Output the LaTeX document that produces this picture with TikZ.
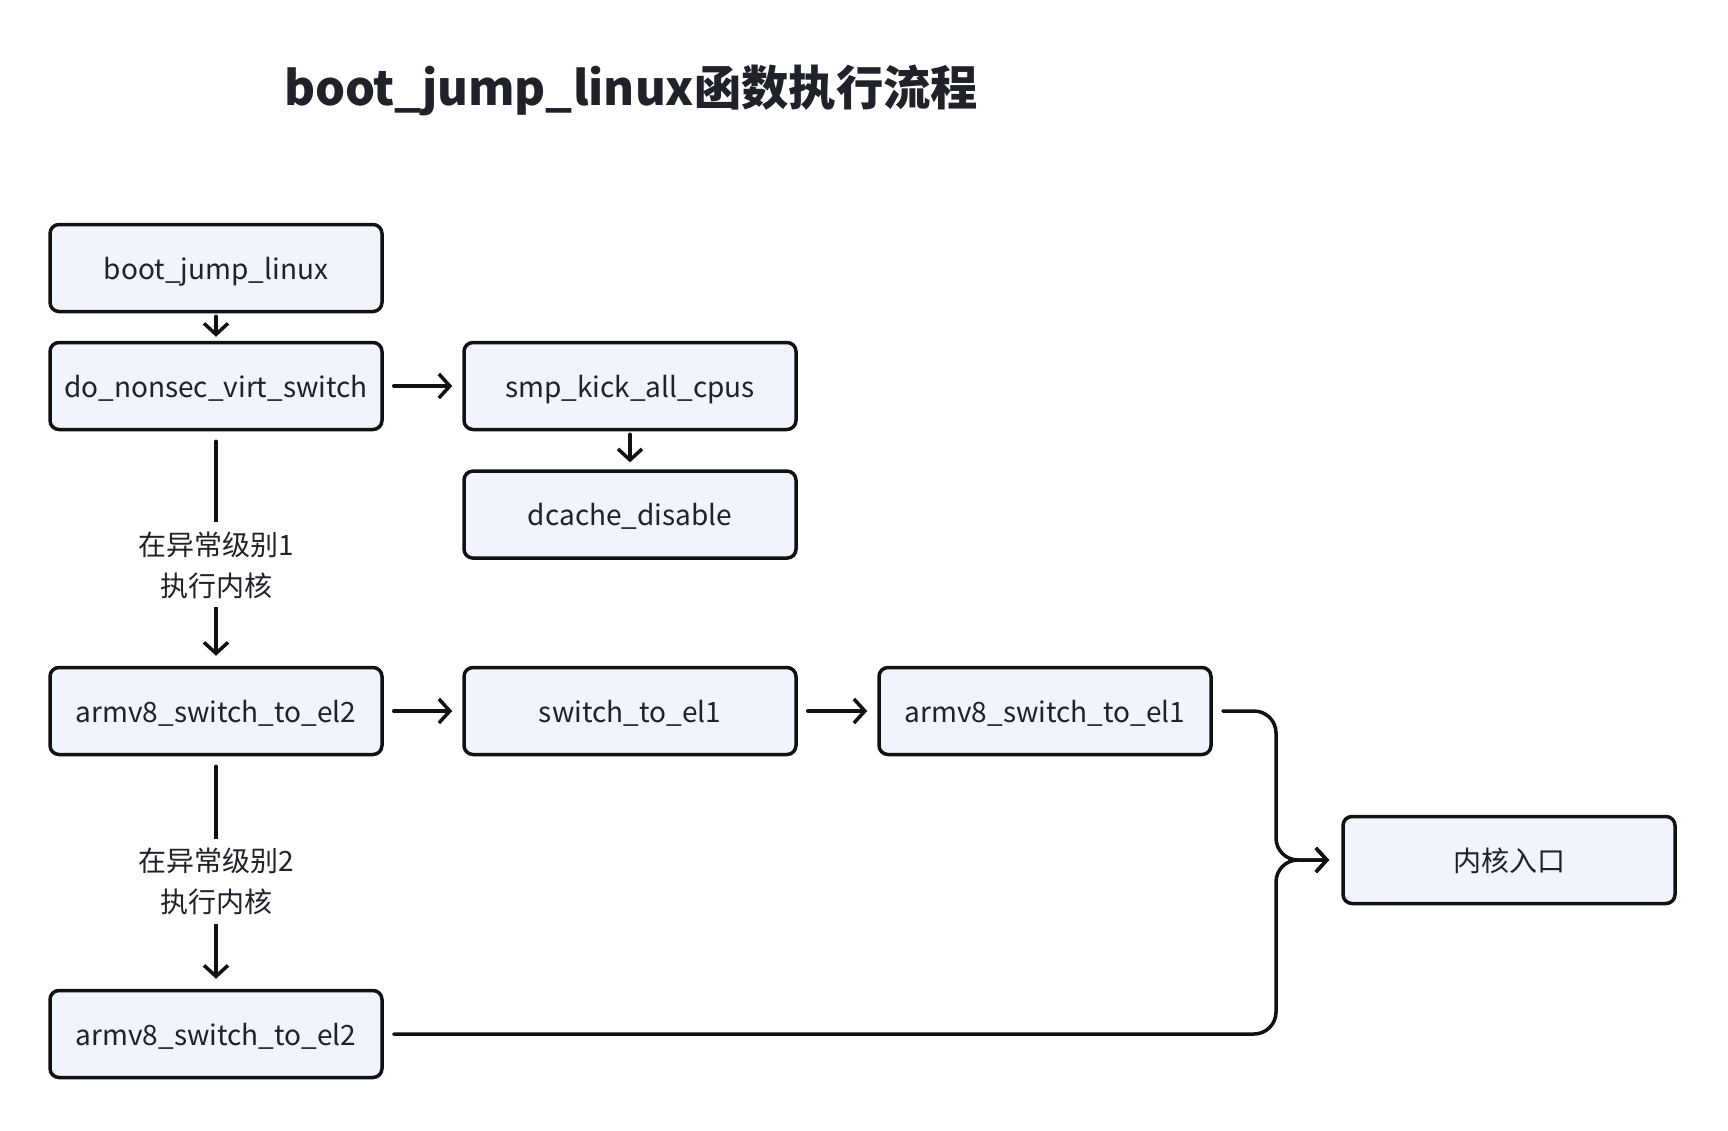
\documentclass[tikz,border=0pt]{standalone}
\usepackage{fontspec}
\setmainfont{Noto Sans CJK SC}
\usetikzlibrary{arrows.meta}
\definecolor{boxfill}{HTML}{EFF4FD}
\definecolor{txt}{HTML}{1F2329}
\definecolor{ln}{HTML}{111111}
\begin{document}
\begin{tikzpicture}[x=1pt,y=-1pt,
  box/.style={draw=ln, line width=3.5pt, fill=boxfill, rounded corners=9pt,
    minimum width=332pt, minimum height=87pt, text=txt,
    font=\fontsize{28}{32}\selectfont, inner sep=0pt,
    text height=22pt, text depth=0pt},
  arr/.style={draw=ln, line width=3.5pt, line cap=round, line join=round,
    -{Straight Barb[length=11pt,width=24pt]}},
  lbl/.style={fill=white, text=txt, align=center,
    font=\fontsize{28}{41}\selectfont, inner xsep=4pt, inner ysep=9pt}]
\useasboundingbox (0,0) rectangle (1728,1130);
\fill[white] (0,0) rectangle (1728,1130);

\node[text=txt, font=\fontsize{47.3}{56}\selectfont\bfseries] (title) at (631,90) {boot\_jump\_linux函数执行流程};

\node[box] (boot)  at (216,268)  {boot\_jump\_linux};
\node[box] (dns)   at (216,386)  {do\_nonsec\_virt\_switch};
\node[box] (smp)   at (630,386)  {smp\_kick\_all\_cpus};
\node[box] (dc)    at (630,514.6) {dcache\_disable};
\node[box] (el2)   at (216,711)  {armv8\_switch\_to\_el2};
\node[box] (sw)    at (630,711)  {switch\_to\_el1};
\node[box] (el1)   at (1045,711) {armv8\_switch\_to\_el1};
\node[box] (entry) at (1509,860) {内核入口};
\node[box] (el2b)  at (216,1034) {armv8\_switch\_to\_el2};

\coordinate (jx) at (1276,0);

\draw[arr, shorten <=3pt, shorten >=4pt] (boot.south) -- (dns.north);
\draw[arr, shorten <=10pt, shorten >=10pt] (dns.east) -- (smp.west);
\draw[arr, shorten <=3pt, shorten >=7pt] (smp.south) -- (dc.north);
\draw[arr, shorten <=10pt, shorten >=10pt] (dns.south) -- node[lbl, pos=0.57] (l1) {在异常级别1\\执行内核} (el2.north);
\draw[arr, shorten <=10pt, shorten >=10pt] (el2.east) -- (sw.west);
\draw[arr, shorten <=10pt, shorten >=10pt] (sw.east) -- (el1.west);
\draw[arr, shorten <=10pt, shorten >=10pt] (el2.south) -- node[lbl, pos=0.54] (l2) {在异常级别2\\执行内核} (el2b.north);
\draw[arr, rounded corners=22pt] ([xshift=10pt]el1.east) -| (jx |- entry.west) -- ([xshift=-12pt]entry.west);
\draw[arr, rounded corners=22pt] ([xshift=10pt]el2b.east) -| (jx |- entry.west) -- ([xshift=-12pt]entry.west);
\end{tikzpicture}
\end{document}
